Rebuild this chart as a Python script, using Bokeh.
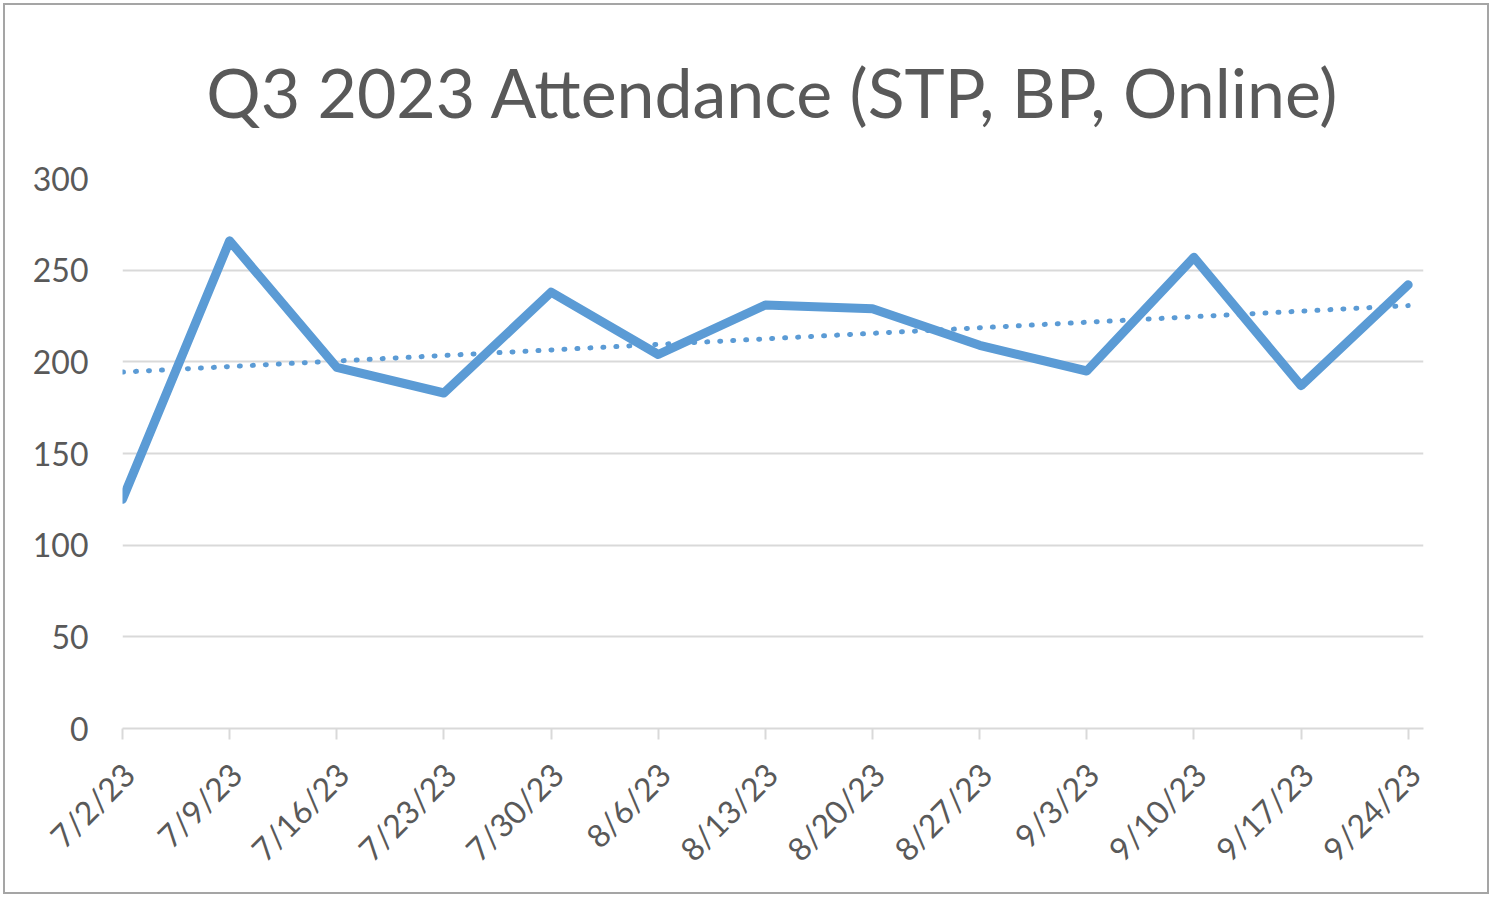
import numpy as np
import pandas as pd
from bokeh.plotting import figure
from bokeh.models import Range1d, FixedTicker, LinearAxis, CustomLabelingPolicy
from bokeh.embed import file_html
from bokeh.resources import INLINE

# ---- data ----
dates = ["7/2/23", "7/9/23", "7/16/23", "7/23/23", "7/30/23", "8/6/23", "8/13/23",
         "8/20/23", "8/27/23", "9/3/23", "9/10/23", "9/17/23", "9/24/23"]
attendance = [125, 266, 197, 183, 238, 204, 231, 229, 209, 195, 257, 187, 242]
y_ticks = [0, 50, 100, 150, 200, 250, 300]
title_text = "Q3 2023 Attendance (STP, BP, Online)"

# ---- derived ----
dt = pd.to_datetime(dates, format="%m/%d/%y")
days = [(d - dt[0]).days for d in dt]
slope, intercept = np.polyfit(days, attendance, 1)
trend_x = [days[0], days[-1]]
trend_y = [intercept + slope * d for d in trend_x]

TEXT = "#595959"
GRID = "#d9d9d9"
BLUE = "#5b9bd5"
FONT = "Lato"
LABEL_SHIFT = 0.4  # small rightward nudge of rotated date labels (in days)

p = figure(width=1486, height=891, output_backend="svg", toolbar_location=None,
           x_range=Range1d(0, days[-1] + 1), y_range=Range1d(0, 300),
           min_border_left=117, min_border_right=68, min_border_top=173, min_border_bottom=168)
p.styles = {"border": "2px solid #a5a5a5", "margin": "3px 0px 0px 3px"}
p.outline_line_color = None
p.background_fill_color = "white"
p.border_fill_color = "white"

p.title.text = title_text
p.title.align = "center"
p.title.vertical_align = "top"
p.title.text_font = FONT
p.title.text_font_size = "68px"
p.title.text_font_style = "normal"
p.title.text_color = TEXT
p.title.standoff = 90

p.line(days, attendance, line_color=BLUE, line_width=9, line_join="round", line_cap="round")
p.line(trend_x, trend_y, line_color=BLUE, line_width=5, line_dash="1 12", line_cap="round")

# x axis: ticks + axis line only
xa = p.xaxis[0]
xa.ticker = FixedTicker(ticks=days)
xa.major_label_policy = CustomLabelingPolicy(code="""
    for (const i of indices)
        indices.unset(i)
    return indices
""")
xa.major_label_standoff = 0
xa.axis_line_color = GRID
xa.axis_line_width = 2
xa.major_tick_line_color = GRID
xa.major_tick_line_width = 2
xa.major_tick_out = 11
xa.major_tick_in = 0
xa.minor_tick_line_color = None

# second x axis: the rotated date labels
lab_ticks = [d + LABEL_SHIFT for d in days]
xa2 = LinearAxis(ticker=FixedTicker(ticks=lab_ticks),
                 major_label_overrides={t: lab for t, lab in zip(lab_ticks, dates)},
                 major_label_orientation=np.pi / 4,
                 major_label_text_font=FONT, major_label_text_font_size="32px",
                 major_label_text_color=TEXT, major_label_standoff=18,
                 axis_line_color=None, major_tick_line_color=None, minor_tick_line_color=None,
                 major_tick_out=0, major_tick_in=0)
p.add_layout(xa2, "below")

# y axis
ya = p.yaxis[0]
ya.ticker = FixedTicker(ticks=y_ticks)
ya.major_label_text_font = FONT
ya.major_label_text_font_size = "32px"
ya.major_label_text_color = TEXT
ya.major_label_standoff = 28
ya.axis_line_color = None
ya.major_tick_line_color = None
ya.minor_tick_line_color = None

p.xgrid.grid_line_color = None
p.ygrid.grid_line_color = GRID
p.ygrid.grid_line_width = 2

open("out.html", "w").write(file_html(p, INLINE))
